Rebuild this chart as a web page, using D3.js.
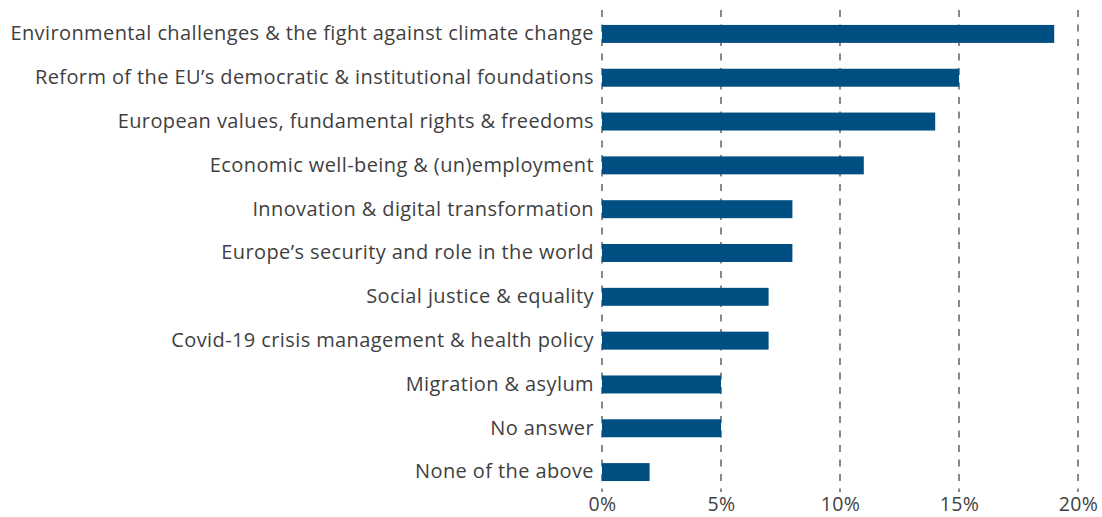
<!DOCTYPE html>
<html>
<head>
<meta charset="utf-8">
<script src="https://cdn.jsdelivr.net/npm/d3@7"></script>
<style>
  body { margin: 0; background: #fff; }
  svg text { font-family: "Open Sans", sans-serif; fill: #3f3f3f; }
</style>
</head>
<body>
<svg id="chart" width="1102" height="517"></svg>
<script>
const categories = [
  "Environmental challenges & the fight against climate change",
  "Reform of the EU\u2019s democratic & institutional foundations",
  "European values, fundamental rights & freedoms",
  "Economic well-being & (un)employment",
  "Innovation & digital transformation",
  "Europe\u2019s security and role in the world",
  "Social justice & equality",
  "Covid-19 crisis management & health policy",
  "Migration & asylum",
  "No answer",
  "None of the above"
];
const values = [19, 15, 14, 11, 8, 8, 7, 7, 5, 5, 2];
const tickValues = [0, 5, 10, 15, 20];

const svg = d3.select("#chart");
const x = d3.scaleLinear().domain([0, 20]).range([602, 1078]);
const y = d3.scaleBand().domain(categories).range([12, 494]).paddingInner(0.59).paddingOuter(0.295);

// dashed grid lines
svg.append("g").selectAll("line")
  .data(tickValues).enter().append("line")
  .attr("x1", d => x(d)).attr("x2", d => x(d))
  .attr("y1", 10).attr("y2", 492)
  .attr("stroke", "#4a4a4a")
  .attr("stroke-width", 1.3)
  .attr("stroke-dasharray", "7,7.5");

// bars
svg.append("g").selectAll("rect")
  .data(values).enter().append("rect")
  .attr("x", x(0))
  .attr("y", (d, i) => y(categories[i]))
  .attr("width", d => x(d) - x(0))
  .attr("height", y.bandwidth())
  .attr("fill", "#004f83");

// category labels
const yAxis = d3.axisLeft(y).tickSize(0).tickPadding(8);
const gy = svg.append("g").attr("transform", `translate(${x(0)},0)`).call(yAxis);
gy.select(".domain").remove();
gy.selectAll("text").style("font-size", "20px").style("letter-spacing", "0.4px");

// x axis labels
const xAxis = d3.axisBottom(x).tickValues(tickValues).tickFormat(d => d + "%").tickSize(0).tickPadding(0);
const gx = svg.append("g").attr("transform", "translate(0,497)").call(xAxis);
gx.select(".domain").remove();
gx.selectAll("text").style("font-size", "19.5px").style("letter-spacing", "0.3px");
</script>
</body>
</html>
